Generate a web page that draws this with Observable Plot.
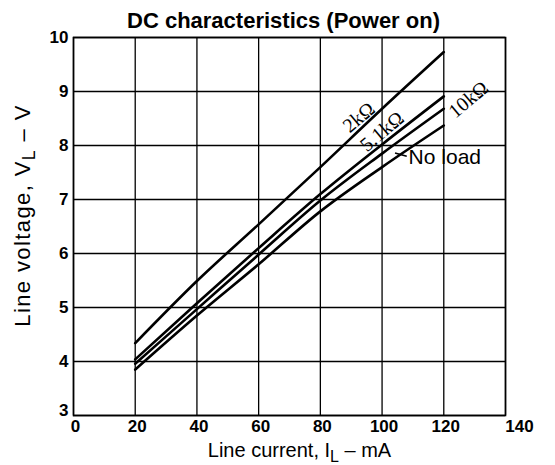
<!DOCTYPE html>
<html>
<head>
<meta charset="utf-8">
<script src="https://cdn.jsdelivr.net/npm/d3@7"></script>
<script src="https://cdn.jsdelivr.net/npm/@observablehq/plot@0.6"></script>
<style>
  html, body { margin: 0; padding: 0; background: #fff; }
</style>
</head>
<body>
<div id="chart"></div>
<script>
// ---- data ----
const currents = [20, 40, 60, 80, 100, 120];          // mA
const v2k     = [4.34, 5.49, 6.54, 7.60, 8.68, 9.73]; // V
const v51k    = [4.04, 5.08, 6.10, 7.10, 8.02, 8.91];
const v10k    = [3.96, 4.97, 5.98, 6.98, 7.85, 8.68];
const vNoLoad = [3.85, 4.85, 5.80, 6.78, 7.60, 8.37];
const seriesNames = ["2kΩ", "5.1kΩ", "10kΩ", "No load"];
const xTicks = [0, 20, 40, 60, 80, 100, 120, 140];
const yTicks = [3, 4, 5, 6, 7, 8, 9, 10];
const title = "DC characteristics (Power on)";
const xLabel = "Line current, I|L| – mA";
const yLabel = "Line voltage, V|L| – V";

// curve labels anchored in data space
const labelX = [92.5, 100, 128, 108.6];
const labelY = [8.52, 8.26, 8.85, 7.79];
// short leader in front of "No load"
const leaderX = [104.2, 108.0];
const leaderY = [7.86, 7.80];

const seriesValues = [v2k, v51k, v10k, vNoLoad];
const rows = seriesNames.flatMap((s, i) =>
  currents.map((c, j) => ({series: s, I: c, V: seriesValues[i][j]})));
const labels = seriesNames.map((s, i) => ({series: s, I: labelX[i], V: labelY[i]}));
const serifLabels = labels.slice(0, 3);
const noLoadLabel = labels.slice(3);
const leader = [{x1: leaderX[0], y1: leaderY[0], x2: leaderX[1], y2: leaderY[1]}];

const tickStyle = {tickSize: 0, fontSize: 17, fontWeight: "bold", label: null};

const plot = Plot.plot({
  width: 555,
  height: 465,
  marginLeft: 73,
  marginRight: 50,
  marginTop: 37,
  marginBottom: 50,
  style: {fontFamily: "Liberation Sans, Arial, sans-serif", background: "#fff", color: "#000"},
  x: {domain: [0, 140]},
  y: {domain: [3, 10]},
  marks: [
    Plot.gridX(xTicks, {stroke: "#000", strokeOpacity: 1, strokeWidth: 1.3}),
    Plot.gridY(yTicks, {stroke: "#000", strokeOpacity: 1, strokeWidth: 1.3}),
    Plot.frame({stroke: "#000", strokeWidth: 1.6}),
    Plot.axisX(xTicks.slice(0, -1), {...tickStyle, tickPadding: 4, dx: 2}),
    Plot.axisX(xTicks.slice(-1), {...tickStyle, tickPadding: 4, dx: 14}),
    Plot.axisY(yTicks.slice(1), {...tickStyle, tickPadding: 5, tickFormat: d => String(d)}),
    Plot.axisY(yTicks.slice(0, 1), {...tickStyle, tickPadding: 5, dy: -5, tickFormat: d => String(d)}),
    Plot.line(rows, {x: "I", y: "V", z: "series", stroke: "#000", strokeWidth: 2.6, curve: "monotone-x"}),
    Plot.link(leader, {x1: "x1", y1: "y1", x2: "x2", y2: "y2", stroke: "#000", strokeWidth: 1.5}),
    Plot.text(serifLabels, {x: "I", y: "V", text: "series", rotate: -40, fontSize: 20,
      fontFamily: "Liberation Serif, Times New Roman, serif", fill: "#000"}),
    Plot.text(noLoadLabel, {x: "I", y: "V", text: "series", textAnchor: "start", fontSize: 21, fill: "#000"}),
    Plot.text([title], {frameAnchor: "top", dy: -25, dx: -6, text: d => d, fontSize: 22, fontWeight: "bold", fill: "#000"}),
    Plot.text([xLabel], {frameAnchor: "bottom", dy: 41, dx: 10, text: d => d, fontSize: 20, fill: "#000", className: "xlab"}),
    Plot.text([yLabel], {frameAnchor: "left", textAnchor: "middle", dx: -51, dy: -11, rotate: -90, text: d => d, fontSize: 22, fill: "#000", className: "ylab"})
  ]
});

// render "|L|" as a subscript
d3.select(plot).selectAll("g.xlab text, g.ylab text").each(function() {
  const t = d3.select(this);
  const parts = t.text().split("|");
  t.text(null);
  parts.forEach((p, i) => {
    const ts = t.append("tspan").text(p);
    if (i === 1) ts.attr("baseline-shift", "-30%").attr("font-size", "0.8em");
  });
});
d3.select(plot).selectAll("g.ylab text").attr("letter-spacing", "1.4px");

document.getElementById("chart").appendChild(plot);
</script>
</body>
</html>
